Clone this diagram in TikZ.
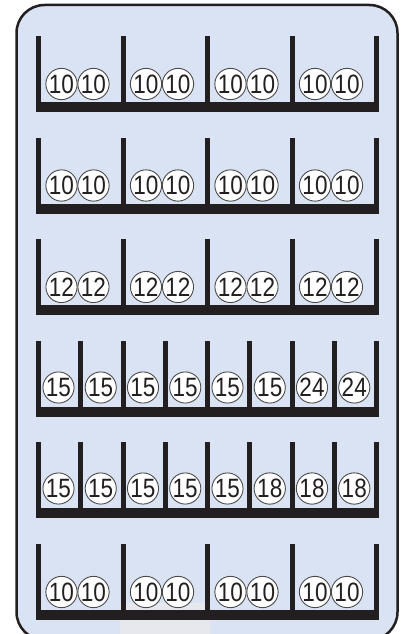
\documentclass[tikz,border=0pt]{standalone}
\usepackage{fontspec}
\setmainfont{Liberation Sans}
\definecolor{ink}{HTML}{231F20}
\definecolor{bg}{HTML}{D9E3F4}
\definecolor{ringc}{HTML}{4A4A4A}
\definecolor{glitch}{HTML}{E6E8EE}
\newcommand\coinnum[1]{\scalebox{0.85}[1]{#1}}
\begin{document}
\begin{tikzpicture}[x=1pt,y=-1pt,
  coin/.style={circle, draw=ringc, fill=white, line width=0.9pt, minimum size=30.5pt, inner sep=0pt, font=\fontsize{26.5}{26.5}\selectfont, text=ink},
  post/.style={fill=ink}]
\useasboundingbox (0,0) rectangle (400,634);
\clip (0,0) rectangle (400,634);
\draw[line width=2.5pt, draw=ink, fill=bg, rounded corners=28pt] (16.5,5) rectangle (397.5,640);
\fill[glitch] (120,603) rectangle (210,634);
% rows with four bins and two coins per bin
\foreach \T/\n/\rn in {36/10/1, 137.5/10/2, 239/12/3, 544/10/6}{
  \foreach \k in {0,...,4}{
    \pgfmathsetmacro\L{36+84.5*\k}
    \fill[post] (\L,\T) rectangle ({\L+5},{\T+66});
  }
  \fill[post] (36,{\T+66}) rectangle (379,{\T+76});
  \foreach \k in {0,...,3}{
    \pgfmathsetmacro\C{36+84.5*\k+41.5}
    \node[coin] (c\rn-\k-a) at ({\C-16},{\T+48}) {\coinnum{\n}};
    \node[coin] (c\rn-\k-b) at ({\C+16},{\T+48}) {\coinnum{\n}};
  }
}
% rows with eight bins and one coin per bin
\foreach \T/\lst/\rn in {341/{15,15,15,15,15,15,24,24}/4, 442/{15,15,15,15,15,18,18,18}/5}{
  \foreach \k in {0,...,8}{
    \pgfmathsetmacro\L{36+42.25*\k}
    \fill[post] (\L,\T) rectangle ({\L+5},{\T+66});
  }
  \fill[post] (36,{\T+66}) rectangle (379,{\T+76});
  \foreach \v [count=\k from 0] in \lst{
    \pgfmathsetmacro\C{36+42.25*\k+22.5}
    \node[coin, minimum size=29.5pt] (c\rn-\k) at (\C,{\T+46.5}) {\coinnum{\v}};
  }
}
\end{tikzpicture}
\end{document}
